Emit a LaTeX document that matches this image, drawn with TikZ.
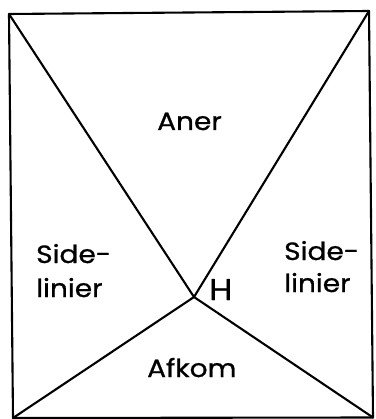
\documentclass[tikz,border=0pt]{standalone}
\usepackage{fontspec}
\setmainfont{Poppins}[FakeStretch=1.12,FakeBold=0.8]
\begin{document}
\begin{tikzpicture}[x=1pt,y=-1pt,
  edge/.style={line width=2.1pt,line cap=round,line join=round},
  lbl/.style={font=\fontsize{25}{30}\selectfont,inner sep=0pt,anchor=base west}]
\useasboundingbox (0,0) rectangle (375,419);
\coordinate (TL) at (9,14);
\coordinate (TR) at (369,11);
\coordinate (BR) at (373,417.5);
\coordinate (BL) at (13,418);
\coordinate (H) at (194,297);
\draw[edge] (TL) -- (TR) -- (BR) -- (BL) -- cycle;
\draw[edge] (TL) -- (H) -- (TR);
\draw[edge] (BL) -- (H) -- (BR);
\node[lbl] (aner) at (157,130) {Aner};
\node[lbl] (sl1) at (36,263) {Side-};
\node[lbl] (sl2) at (36,297) {linier};
\node[lbl] (sr1) at (284,260) {Side-};
\node[lbl] (sr2) at (284,292) {linier};
\node[lbl,font=\fontsize{30}{34}\selectfont] (h) at (209,300) {H};
\node[lbl] (afkom) at (147,377) {Afkom};
\end{tikzpicture}
\end{document}
